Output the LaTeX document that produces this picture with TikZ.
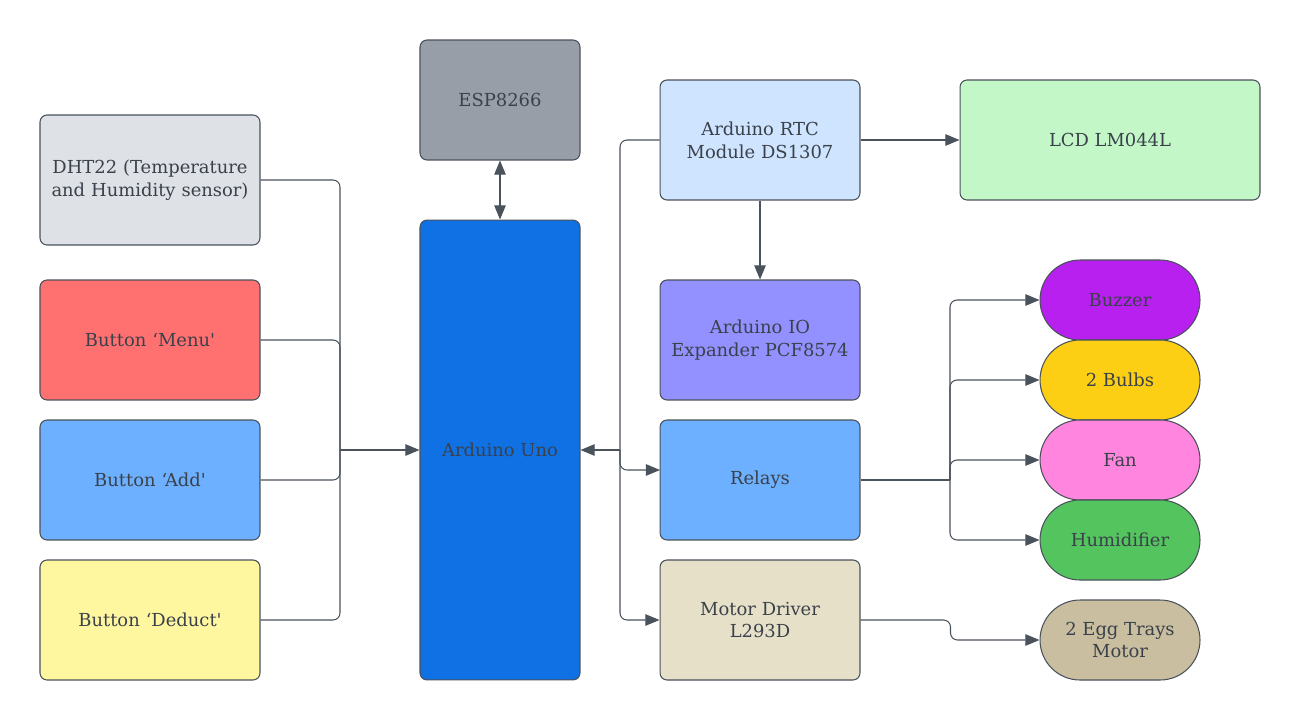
\documentclass[tikz,border=0pt]{standalone}
\usepackage{fontspec}
\setmainfont{DejaVu Serif}
\usetikzlibrary{arrows.meta}

\definecolor{txt}{HTML}{3A414A}
\definecolor{edge}{HTML}{4A525C}
\definecolor{dhtfill}{HTML}{DEE1E6}
\definecolor{menufill}{HTML}{FF7070}
\definecolor{addfill}{HTML}{6CB0FF}
\definecolor{deductfill}{HTML}{FFF6A0}
\definecolor{espfill}{HTML}{979EA8}
\definecolor{unofill}{HTML}{1071E5}
\definecolor{rtcfill}{HTML}{CFE4FF}
\definecolor{lcdfill}{HTML}{C3F7C8}
\definecolor{iofill}{HTML}{9391FF}
\definecolor{motorfill}{HTML}{E6E0C8}
\definecolor{buzzfill}{HTML}{B820F0}
\definecolor{bulbfill}{HTML}{FCCE14}
\definecolor{fanfill}{HTML}{FF85DE}
\definecolor{humfill}{HTML}{54C45E}
\definecolor{eggfill}{HTML}{C9BFA0}
\tikzset{
  box/.style={draw=edge, line width=0.6pt, rounded corners=4pt, text=txt,
    align=center, font=\fontsize{10.2}{13}\selectfont, inner sep=2pt},
  wide/.style={box, minimum width=4.4cm, minimum height=2.4cm, text width=4.2cm},
  mid/.style={box, minimum width=4cm, minimum height=2.4cm, text width=3.8cm},
  narrow/.style={box, minimum width=3.2cm, minimum height=2.4cm},
  pill/.style={box, rounded corners=0.8cm, minimum width=3.2cm, minimum height=1.6cm},
  wire/.style={draw=edge, line width=0.6pt, rounded corners=4pt},
  link/.style={wire, -{Triangle[length=8pt,width=6.5pt]}}
}

\begin{document}
\begin{tikzpicture}[x=0.02cm,y=-0.02cm]
  \useasboundingbox (0,0) rectangle (1300,720);

  % inputs
  \node[wide, fill=dhtfill, minimum height=2.6cm] (dht) at (150,180) {DHT22 (Temperature\\and Humidity sensor)};
  \node[wide, fill=menufill] (menu) at (150,340) {Button ‘Menu\textquotesingle};
  \node[wide, fill=addfill] (add) at (150,480) {Button ‘Add\textquotesingle};
  \node[wide, fill=deductfill] (deduct) at (150,620) {Button ‘Deduct\textquotesingle};

  % controller
  \node[narrow, fill=espfill] (esp) at (500,100) {ESP8266};
  \node[narrow, fill=unofill, minimum height=9.2cm] (uno) at (500,450) {Arduino Uno};

  % modules
  \node[mid, fill=rtcfill] (rtc) at (760,140) {Arduino RTC\\Module DS1307};
  \node[box, fill=lcdfill, minimum width=6cm, minimum height=2.4cm] (lcd) at (1110,140) {LCD LM044L};
  \node[mid, fill=iofill] (io) at (760,340) {Arduino IO\\Expander PCF8574};
  \node[mid, fill=addfill] (relays) at (760,480) {Relays};
  \node[mid, fill=motorfill] (motor) at (760,620) {Motor Driver\\L293D};

  % outputs
  \node[pill, fill=buzzfill] (buzzer) at (1120,300) {Buzzer};
  \node[pill, fill=bulbfill] (bulbs) at (1120,380) {2 Bulbs};
  \node[pill, fill=fanfill] (fan) at (1120,460) {Fan};
  \node[pill, fill=humfill] (hum) at (1120,540) {Humidifier};
  \node[pill, fill=eggfill] (eggs) at (1120,640) {2 Egg Trays\\Motor};

  % junctions
  \coordinate (lj) at (340,450);
  \coordinate (rj) at (620,450);
  \coordinate (ra) at (660,470);
  \coordinate (bj) at (950,480);

  \begin{scope}[wire]
    \draw (dht.east) -| (lj);
    \draw (menu.east) -| (lj);
    \draw (add.east) -| (lj);
    \draw (deduct.east) -| (lj);
    \draw (rtc.west) -| (rj);
    \draw (relays.east) -- (bj);
  \end{scope}
  \draw[link] (lj) -- (uno.west);
  \draw[link] (rj) -- (uno.east);
  \draw[link] (rj) |- (ra);
  \draw[link] (rj) |- (motor.west);
  \draw[wire, {Triangle[length=8pt,width=6.5pt]}-{Triangle[length=8pt,width=6.5pt]}] (esp) -- (uno);
  \draw[link] (rtc) -- (lcd);
  \draw[link] (rtc) -- (io);
  \draw[link] (bj) |- (buzzer.west);
  \draw[link] (bj) |- (bulbs.west);
  \draw[link] (bj) |- (fan.west);
  \draw[link] (bj) |- (hum.west);
  \draw[link] (motor.east) -- ++(90,0) |- (eggs.west);
\end{tikzpicture}
\end{document}
